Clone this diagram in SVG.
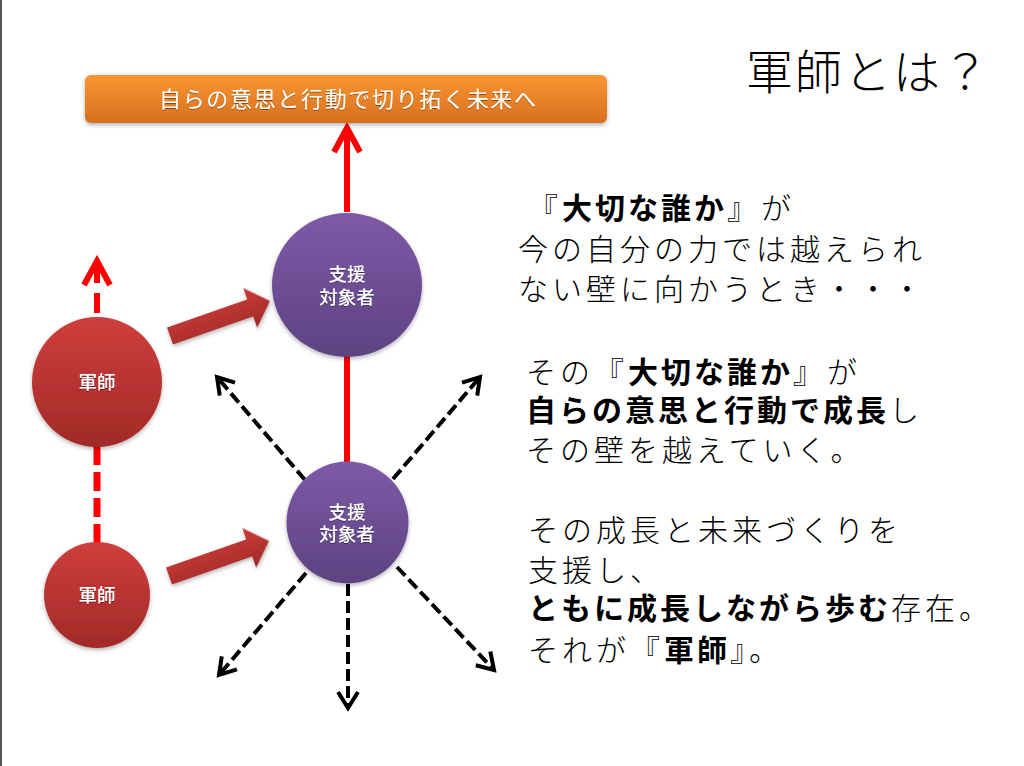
<svg xmlns="http://www.w3.org/2000/svg" width="1024" height="766" viewBox="0 0 1024 766">
  <style>
    .jp { font-family: "Noto Sans CJK JP", "Noto Sans", sans-serif; }
    .node-label { font-family: "Noto Sans CJK JP", sans-serif; font-size: 18.5px; font-weight: 500; fill: #ffffff; text-anchor: middle; }
    .body { font-family: "Noto Sans CJK JP", sans-serif; font-size: 30px; fill: #000000; letter-spacing: 4px; font-weight: 300; }
    .b { font-weight: 700; letter-spacing: 3px; }
    .red-solid { stroke: #ff0000; stroke-width: 6; fill: none; }
    .red-dash { stroke: #ff0000; stroke-width: 7; fill: none; stroke-dasharray: 19 7; }
    .black-dash { stroke: #000000; stroke-width: 4; fill: none; stroke-dasharray: 12 5; }
  </style>
  <defs>
    <linearGradient id="gOrange" x1="0" y1="0" x2="0" y2="1">
      <stop offset="0" stop-color="#FA9533"/>
      <stop offset="1" stop-color="#D6701F"/>
    </linearGradient>
    <linearGradient id="gPurple" x1="0" y1="0" x2="0" y2="1">
      <stop offset="0" stop-color="#7D5AA7"/>
      <stop offset="1" stop-color="#5D4382"/>
    </linearGradient>
    <linearGradient id="gRed" x1="0" y1="0" x2="0" y2="1">
      <stop offset="0" stop-color="#CF3E3C"/>
      <stop offset="1" stop-color="#A12A28"/>
    </linearGradient>
    <linearGradient id="gArrow" x1="0" y1="0" x2="0" y2="1">
      <stop offset="0" stop-color="#CB3C3A"/>
      <stop offset="1" stop-color="#9F2A28"/>
    </linearGradient>
    <filter id="shadow" x="-20%" y="-20%" width="140%" height="150%">
      <feDropShadow dx="0" dy="2" stdDeviation="2" flood-color="#000" flood-opacity="0.3"/>
    </filter>
    <filter id="tshadow" x="-10%" y="-20%" width="120%" height="150%">
      <feDropShadow dx="0" dy="1" stdDeviation="0.6" flood-color="#000" flood-opacity="0.4"/>
    </filter>
    <marker id="ahBlack" viewBox="-20 -12 24 24" refX="0" refY="0" markerWidth="24" markerHeight="24" markerUnits="userSpaceOnUse" orient="auto" overflow="visible">
      <path d="M-16,-10 L0,0 L-16,10" fill="none" stroke="#000" stroke-width="4"/>
    </marker>
    <marker id="ahRed" viewBox="-30 -16 34 32" refX="0" refY="0" markerWidth="34" markerHeight="32" markerUnits="userSpaceOnUse" orient="auto" overflow="visible">
      <path d="M-24,-13 L0,0 L-24,13" fill="none" stroke="#ff0000" stroke-width="6"/>
    </marker>
  </defs>

  <rect x="0" y="0" width="1024" height="766" fill="#ffffff"/>
  <rect x="0" y="0" width="2" height="766" fill="#555555"/>

  <!-- Title -->
  <text class="jp" x="746" y="89" font-size="47" font-weight="300" letter-spacing="2" fill="#000">軍師とは？</text>

  <!-- Connectors -->
  <g id="connectors">
    <path class="red-solid" d="M347,212 L347,128" marker-end="url(#ahRed)"/>
    <path class="red-solid" d="M347,356 L347,463"/>
    <path class="red-solid" stroke-width="7" d="M97,313 V293 M97,283 V261" marker-end="url(#ahRed)"/>
    <path class="red-dash" d="M97,446 L97,543"/>
    <path class="black-dash" d="M305,480 L217,377" marker-end="url(#ahBlack)"/>
    <path class="black-dash" d="M393,479 L480,377" marker-end="url(#ahBlack)"/>
    <path class="black-dash" d="M306,573 L219,675" marker-end="url(#ahBlack)"/>
    <path class="black-dash" d="M348,584 L348,708" marker-end="url(#ahBlack)"/>
    <path class="black-dash" d="M397,567 L494,670" marker-end="url(#ahBlack)"/>
    <path d="M0,-9 L85,-9 L85,-21 L106,0 L85,21 L85,9 L0,9 Z" fill="url(#gArrow)" filter="url(#shadow)" transform="translate(170,336) rotate(-19.3)"/>
    <path d="M0,-9 L85,-9 L85,-21 L106,0 L85,21 L85,9 L0,9 Z" fill="url(#gArrow)" filter="url(#shadow)" transform="translate(169,576) rotate(-19.3)"/>
  </g>

  <!-- Goal bar -->
  <g id="goal">
    <rect x="85" y="75" width="522" height="48" rx="6" fill="url(#gOrange)" filter="url(#shadow)"/>
    <text class="jp" x="159" y="107" font-size="22" fill="#ffffff" textLength="377" lengthAdjust="spacing" filter="url(#tshadow)">自らの意思と行動で切り拓く未来へ</text>
  </g>

  <!-- Supported person (top) -->
  <g id="target-top">
    <ellipse cx="347" cy="285" rx="75" ry="72" fill="url(#gPurple)" filter="url(#shadow)"/>
    <text class="node-label" x="347" y="281" filter="url(#tshadow)">支援</text>
    <text class="node-label" x="347" y="304" filter="url(#tshadow)">対象者</text>
  </g>

  <!-- Supported person (bottom) -->
  <g id="target-bottom">
    <circle cx="347.5" cy="522.5" r="61" fill="url(#gPurple)" filter="url(#shadow)"/>
    <text class="node-label" x="347" y="519" filter="url(#tshadow)">支援</text>
    <text class="node-label" x="347" y="541" filter="url(#tshadow)">対象者</text>
  </g>

  <!-- Gunshi 1 -->
  <g id="gunshi-1">
    <circle cx="97" cy="382" r="65" fill="url(#gRed)" filter="url(#shadow)"/>
    <text class="node-label" x="97" y="389" filter="url(#tshadow)">軍師</text>
  </g>

  <!-- Gunshi 2 -->
  <g id="gunshi-2">
    <circle cx="97" cy="595" r="53" fill="url(#gRed)" filter="url(#shadow)"/>
    <text class="node-label" x="97" y="602" filter="url(#tshadow)">軍師</text>
  </g>

  <!-- Right-side text -->
  <g id="description">
    <text class="body" x="528" y="219">『<tspan class="b">大切な誰か</tspan>』が</text>
    <text class="body" x="518" y="260">今の自分の力では越えられ</text>
    <text class="body" x="518" y="300">ない壁に向かうとき・・・</text>
    <text class="body" x="526" y="383">その『<tspan class="b">大切な誰か</tspan>』が</text>
    <text class="body" x="526" y="421"><tspan class="b">自らの意思と行動で成長</tspan>し</text>
    <text class="body" x="526" y="461">その壁を越えていく。</text>
    <text class="body" x="528" y="541">その成長と未来づくりを</text>
    <text class="body" x="528" y="581">支援し、</text>
    <text class="body" x="528" y="619"><tspan class="b">ともに成長しながら歩む</tspan>存在。</text>
    <text class="body" x="528" y="661">それが『<tspan class="b">軍師</tspan>』。</text>
  </g>
</svg>
